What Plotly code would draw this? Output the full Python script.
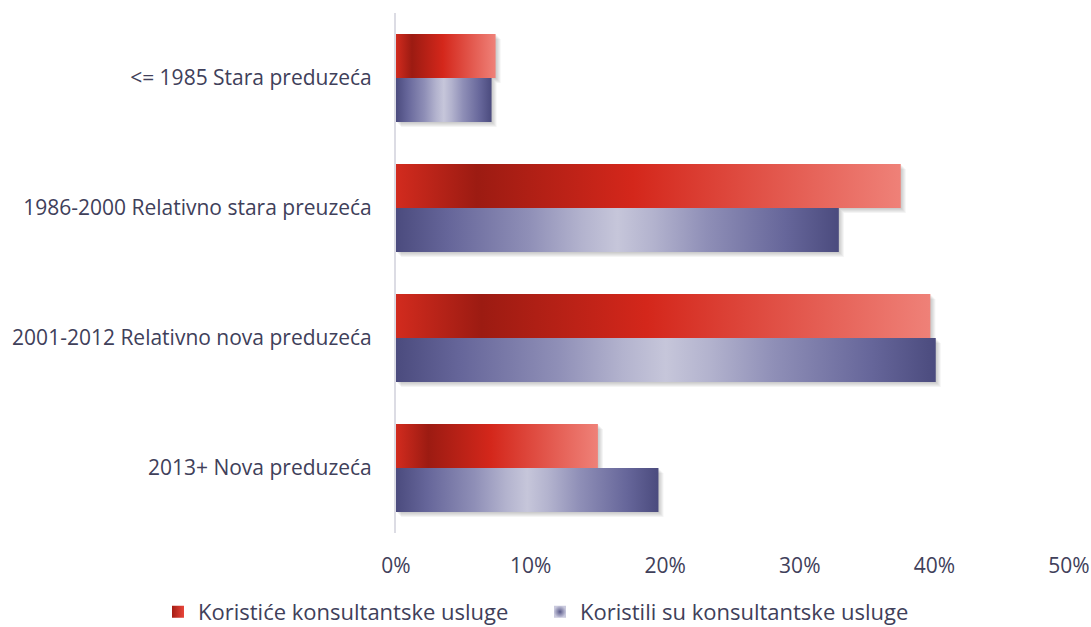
import plotly.graph_objects as go

categories = [
    "<= 1985 Stara preduzeća",
    "1986-2000 Relativno stara preuzeća",
    "2001-2012 Relativno nova preduzeća",
    "2013+ Nova preduzeća",
]
series_names = ["Koristiće konsultantske usluge", "Koristili su konsultantske usluge"]
koristice = [0.074, 0.375, 0.397, 0.150]
koristili = [0.071, 0.329, 0.401, 0.195]
x_ticks = [0, 0.1, 0.2, 0.3, 0.4, 0.5]
x_tick_labels = ["0%", "10%", "20%", "30%", "40%", "50%"]

TEXT = "#40405a"
FONT = "Open Sans"
HALF = 0.3385          # bar thickness in category units
PX_X = 0.5 / 673       # one pixel in x data units
PX_Y = 1 / 130         # one pixel in y data units

red_scale = [[0.0, "#d22b1e"], [0.16, "#9c1b12"], [0.47, "#d4271b"], [1.0, "#ef8178"]]
blue_scale = [[0.0, "#4b4b7e"], [0.12, "#66669a"], [0.3, "#8f8fb7"], [0.42, "#b3b3ce"],
              [0.5, "#c6c6da"], [0.58, "#b3b3ce"], [0.7, "#8f8fb7"], [0.88, "#66669a"],
              [1.0, "#4b4b7e"]]


def rect(x0, x1, y0, y1):
    return [x0, x1, x1, x0, x0], [y0, y0, y1, y1, y0]


fig = go.Figure()

# soft drop shadows, drawn first so bars sit over them
for i in range(len(categories)):
    for val, y0, y1 in ((koristice[i], i - HALF, i), (koristili[i], i, i + HALF)):
        for k in range(1, 6):
            xs, ys = rect(0 + k * PX_X, val + k * PX_X, y0 + k * PX_Y, y1 + k * PX_Y)
            fig.add_trace(go.Scatter(
                x=xs, y=ys, mode="lines", fill="toself", line=dict(width=0),
                fillcolor="rgba(60,60,60,0.055)", hoverinfo="skip", showlegend=False))

# bars
for i, cat in enumerate(categories):
    xs, ys = rect(0, koristice[i], i - HALF, i)
    fig.add_trace(go.Scatter(
        x=xs, y=ys, mode="lines", fill="toself", line=dict(width=0),
        fillgradient=dict(type="horizontal", colorscale=red_scale),
        name=series_names[0], showlegend=False, hoverinfo="skip"))
    xs, ys = rect(0, koristili[i], i, i + HALF)
    fig.add_trace(go.Scatter(
        x=xs, y=ys, mode="lines", fill="toself", line=dict(width=0),
        fillgradient=dict(type="horizontal", colorscale=blue_scale),
        name=series_names[1], showlegend=False, hoverinfo="skip"))

# legend entries, one legend box per series
fig.add_trace(go.Scatter(
    x=[None], y=[None], mode="markers", name=series_names[0], legend="legend",
    marker=dict(symbol="square", size=12, color="#a51d14",
                gradient=dict(type="horizontal", color="#e8453a"))))
fig.add_trace(go.Scatter(
    x=[None], y=[None], mode="markers", name=series_names[1], legend="legend2",
    marker=dict(symbol="square", size=12, color="#c9c9dd",
                gradient=dict(type="radial", color="#5a5a8a"))))

legend_style = dict(orientation="h", xref="container", yref="container",
                    xanchor="left", y=0.024, yanchor="middle",
                    font=dict(size=22, color=TEXT), itemclick=False,
                    bgcolor="rgba(0,0,0,0)")

fig.update_layout(
    width=1091, height=627,
    margin=dict(l=396, r=22, t=13, b=94, autoexpand=False),
    paper_bgcolor="white", plot_bgcolor="white",
    font=dict(family=FONT, size=21, color=TEXT),
    showlegend=True,
    legend=dict(x=158 / 1091, **legend_style),
    legend2=dict(x=540 / 1091, **legend_style),
    xaxis=dict(range=[0, 0.5], tickvals=x_ticks, ticktext=x_tick_labels,
               showgrid=False, zeroline=False, showline=False,
               ticks="", ticklabelstandoff=18, fixedrange=True),
    yaxis=dict(range=[3.5, -0.5], tickvals=list(range(len(categories))),
               ticktext=categories, showgrid=False, zeroline=False,
               showline=True, linecolor="#dcdce4", linewidth=2,
               ticks="", ticklabelstandoff=18, fixedrange=True),
)

fig.write_html("out.html")
